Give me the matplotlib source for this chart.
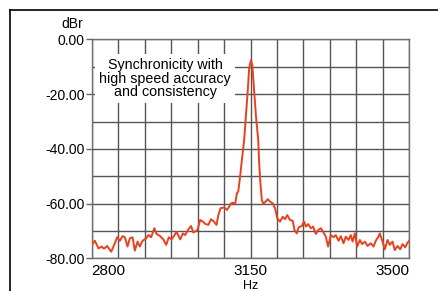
import numpy as np
import matplotlib.pyplot as plt
from matplotlib.lines import Line2D

plt.rcParams['font.family'] = ['Liberation Sans', 'DejaVu Sans']

# spectrum (Hz, dBr)
freq = [2800, 2807, 2815, 2822, 2827, 2834, 2843, 2851, 2856, 2862, 2868, 2873,
        2879, 2884, 2890, 2895, 2901, 2906, 2912, 2920, 2925, 2931, 2938, 2943,
        2951, 2958, 2964, 2970, 2976, 2981, 2987, 2995, 3001, 3006, 3013, 3019,
        3024, 3033, 3039, 3045, 3050, 3057, 3063, 3069, 3075, 3079, 3084, 3092,
        3098, 3103, 3107, 3112, 3116, 3120, 3123, 3127, 3131, 3136, 3144, 3147,
        3151, 3154, 3158, 3162, 3167, 3169, 3172, 3175, 3178, 3183, 3188, 3193,
        3199, 3204, 3209, 3215, 3221, 3226, 3231, 3237, 3243, 3247, 3252, 3256,
        3263, 3268, 3272, 3277, 3283, 3288, 3294, 3299, 3305, 3310, 3316, 3321,
        3327, 3333, 3338, 3344, 3349, 3355, 3360, 3366, 3371, 3375, 3380, 3385,
        3391, 3396, 3402, 3408, 3415, 3421, 3427, 3432, 3435, 3441, 3446, 3452,
        3457, 3463, 3468, 3474, 3480, 3485, 3491, 3496, 3500]
level = [-75.1, -73.6, -76.4, -75.7, -76.5, -75.5, -77.6, -74.5, -72.3, -73.6, -71.9, -72.3,
         -75.7, -72.7, -72.3, -77.2, -73.9, -75.7, -73.6, -72.7, -71.5, -72.3, -69.0, -71.1,
         -71.9, -73.1, -75.1, -72.3, -73.1, -71.9, -70.3, -73.1, -70.9, -71.5, -69.4, -68.2,
         -70.6, -69.7, -66.0, -66.6, -67.4, -67.8, -65.7, -66.5, -67.8, -64.2, -61.7, -61.4,
         -62.3, -61.1, -59.9, -59.7, -60.3, -56.2, -55.6, -50.2, -44.0, -36.7, -18.5, -10.5,
         -7.5, -9.5, -18.5, -28.0, -36.7, -45.0, -53.0, -58.7, -60.1, -59.3, -58.4, -59.3,
         -59.9, -61.7, -65.4, -66.6, -64.8, -65.7, -64.2, -66.0, -66.3, -69.7, -70.9, -68.7,
         -68.2, -66.6, -68.4, -67.5, -69.0, -68.4, -71.1, -69.7, -69.0, -70.3, -72.1, -75.7,
         -71.5, -72.3, -71.5, -73.6, -71.9, -74.5, -72.1, -73.3, -71.5, -73.9, -70.9, -75.7,
         -73.3, -74.8, -73.9, -75.5, -74.5, -75.7, -73.3, -72.1, -70.9, -73.9, -76.7, -73.3,
         -75.1, -73.9, -77.0, -75.5, -76.7, -74.8, -76.0, -74.3, -73.6]

y_ticks = [0, -20, -40, -60, -80]
y_labels = ['0.00', '-20.00', '-40.00', '-60.00', '-80.00']
x_labels = {2800: '2800', 3150: '3150', 3500: '3500'}
note = 'Synchronicity with\nhigh speed accuracy\nand consistency'

fig = plt.figure(figsize=(4.38, 2.91), dpi=100)
ax = fig.add_axes([0.2094, 0.1124, 0.7251, 0.7519])

ax.plot(freq, level, color='#e8411f', lw=1.4, zorder=3)

ax.set_xlim(2800, 3500)
ax.set_ylim(-80, 0)

xgrid = np.linspace(2800, 3500, 13)
ax.set_xticks(xgrid)
ax.set_xticklabels([x_labels.get(int(round(v)), '') for v in xgrid], fontsize=11)
ax.tick_params(axis='x', length=0, pad=4)
labs = ax.get_xticklabels()
labs[0].set_ha('left')
labs[-1].set_ha('right')

ax.set_yticks(y_ticks)
ax.set_yticklabels(y_labels, fontsize=10)
ax.set_yticks([-10, -30, -50, -70], minor=True)
ax.tick_params(axis='y', which='major', length=4, width=1, color='#666666', pad=1)
ax.tick_params(axis='y', which='minor', length=0)

ax.grid(True, which='both', color='#555555', lw=1)
ax.set_axisbelow(True)
for s in ax.spines.values():
    s.set_color('#707070')
    s.set_linewidth(1)

ax.text(2962, -14.4, note, ha='center', va='center', fontsize=10.3,
        linespacing=0.95, zorder=2,
        bbox=dict(facecolor='white', edgecolor='none', pad=3))

fig.text(72 / 438, 1 - 24 / 291, 'dBr', ha='center', va='center', fontsize=10)
fig.text(251 / 438, 1 - 286 / 291, 'Hz', ha='center', va='center', fontsize=9)

# outer frame of the cropped image
fig.add_artist(Line2D([10 / 438, 1], [1 - 10 / 291, 1 - 10 / 291],
                      transform=fig.transFigure, color='black', lw=1.2))
fig.add_artist(Line2D([10 / 438, 10 / 438], [0, 1 - 10 / 291],
                      transform=fig.transFigure, color='black', lw=1.2))

fig.savefig('out.png', dpi=100)
